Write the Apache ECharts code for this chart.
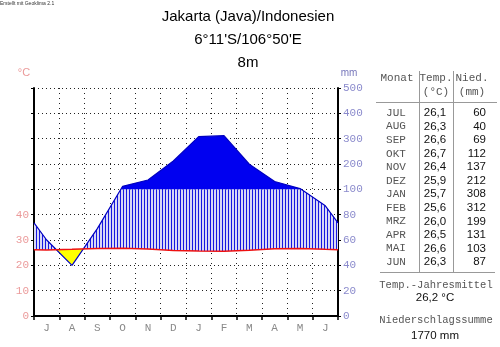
<!DOCTYPE html>
<html><head><meta charset="utf-8">
<script src="https://cdn.jsdelivr.net/npm/echarts@6/dist/echarts.min.js"></script>
<style>html,body{margin:0;padding:0;background:#fff}#c{width:500px;height:347px}</style>
</head><body><div id="c"></div>
<script>
// ---- data ----
const monthLetters = ['J','A','S','O','N','D','J','F','M','A','M','J'];
const monthNames = ['JUL','AUG','SEP','OKT','NOV','DEZ','JAN','FEB','MRZ','APR','MAI','JUN'];
const temperature = [26.1,26.3,26.6,26.7,26.4,25.9,25.7,25.6,26.0,26.5,26.6,26.3];
const precipitation = [60,40,69,112,137,212,308,312,199,131,103,87];
const leftTicks = [0,10,20,30,40];
const rightTicks = [0,20,40,60,80,100,200,300,400,500];
const titleLines = ['Jakarta (Java)/Indonesien', "6°11'S/106°50'E", '8m'];

// ---- scale (Walter-Lieth: 10°C = 20mm up to 100mm, then 10°C = 100mm) ----
function sp(p){ return p <= 100 ? p/2 : 50 + (p-100)/10; }
const edgeT = (temperature[11] + temperature[0]) / 2;
const edgeP = (precipitation[11] + precipitation[0]) / 2;
const nodeX = [0], nodeT = [edgeT], nodeP = [sp(edgeP)];
for (let i = 0; i < 12; i++) { nodeX.push(i + 0.5); nodeT.push(temperature[i]); nodeP.push(sp(precipitation[i])); }
nodeX.push(12); nodeT.push(edgeT); nodeP.push(sp(edgeP));

function buildRegions(){
  const runs = {hatch:null, solid:null, arid:null};
  const out = {hatch:[], solid:[], arid:[]};
  function add(type, x, lo, hi){
    if (!runs[type]) runs[type] = {lo:[], hi:[]};
    const r = runs[type]; const last = r.lo[r.lo.length-1];
    if (last && Math.abs(last[0]-x) < 1e-9) return;
    r.lo.push([x,lo]); r.hi.push([x,hi]);
  }
  function flush(type){
    if (runs[type]) { const r = runs[type]; out[type].push(r.lo.concat(r.hi.slice().reverse())); runs[type] = null; }
  }
  for (let i = 0; i < nodeX.length-1; i++){
    const x0=nodeX[i], x1=nodeX[i+1], t0=nodeT[i], t1=nodeT[i+1], p0=nodeP[i], p1=nodeP[i+1];
    const cuts=[0,1];
    const d0=p0-t0, d1=p1-t1; if (d0*d1<0) cuts.push(d0/(d0-d1));
    const e0=p0-50, e1=p1-50; if (e0*e1<0) cuts.push(e0/(e0-e1));
    cuts.sort((a,b)=>a-b);
    const at = s => ({x:x0+(x1-x0)*s, t:t0+(t1-t0)*s, p:p0+(p1-p0)*s});
    for (let k=0;k<cuts.length-1;k++){
      const a=cuts[k], b=cuts[k+1]; if (b-a<1e-9) continue;
      const A=at(a), B=at(b), M=at((a+b)/2);
      if (M.p>M.t){ add('hatch',A.x,A.t,Math.min(A.p,50)); add('hatch',B.x,B.t,Math.min(B.p,50)); } else flush('hatch');
      if (M.p>50){ add('solid',A.x,50,A.p); add('solid',B.x,50,B.p); } else flush('solid');
      if (M.t>M.p){ add('arid',A.x,A.p,A.t); add('arid',B.x,B.p,B.t); } else flush('arid');
    }
  }
  flush('hatch'); flush('solid'); flush('arid');
  return out;
}
const regions = buildRegions();

// hatch pattern
const cv = document.createElement('canvas'); cv.width = 3; cv.height = 2;
const cx = cv.getContext('2d');
cx.fillStyle = '#d8d8f6'; cx.fillRect(0,0,3,2);
cx.fillStyle = '#1818e0'; cx.fillRect(0,0,1,2);
const hatchPattern = {image: cv, repeat: 'repeat'};

const mono = 'Liberation Mono, DejaVu Sans Mono, monospace';
const sans = 'Liberation Sans, Arial, sans-serif';

// ---- table graphics ----
const g = [];
function txt(text, x, y, font, color, align){
  g.push({type:'text', silent:true, style:{text, x, y, font, fill:color, textAlign:align||'center', align:align||'center', textVerticalAlign:'middle', verticalAlign:'middle'}});
}
function line(x1,y1,x2,y2,color){
  g.push({type:'line', silent:true, shape:{x1,y1,x2,y2}, style:{stroke:color||'#999', lineWidth:1}});
}
txt('Erstellt mit Geoklima 2.1', 0, 4, '5px '+sans, '#333', 'left');
titleLines.forEach((t,i)=>txt(t, 248, 17 + i*23, '15px '+sans, '#000'));
txt('°C', 24, 73, '11px '+sans, '#eb9a9a');
txt('mm', 349, 73, '10px '+sans, '#7777bb');
txt('Monat', 397, 78, '11px '+mono, '#555');
txt('Temp.', 436, 78, '11px '+mono, '#555');
txt('(°C)', 436, 92, '11px '+mono, '#555');
txt('Nied.', 472, 78, '11px '+mono, '#555');
txt('(mm)', 472, 92, '11px '+mono, '#555');
line(419.5, 71, 419.5, 272);
line(453.5, 71, 453.5, 272);
line(376, 102.5, 497, 102.5);
line(380, 272.5, 495, 272.5);
const fmt = v => v.toFixed(1).replace('.', ',');
monthNames.forEach((m,i)=>{
  const y = 113 + i*13.55;
  txt(m, 396, y, '11px '+mono, '#555');
  txt(fmt(temperature[i]), 435, y, '11.5px '+sans, '#111');
  txt(String(precipitation[i]), 486, y, '11.5px '+sans, '#111', 'right');
});
const meanT = temperature.reduce((a,b)=>a+b,0)/temperature.length;
const sumP = precipitation.reduce((a,b)=>a+b,0);
txt('Temp.-Jahresmittel', 436, 285, '10.5px '+mono, '#555');
txt(fmt(meanT)+' °C', 435, 298, '11.5px '+sans, '#111');
txt('Niederschlagssumme', 436, 320, '10.5px '+mono, '#555');
txt(sumP+' mm', 435, 336, '11.5px '+sans, '#111');

const chart = echarts.init(document.getElementById('c'), null, {renderer:'canvas'});
chart.setOption({
  animation: false,
  backgroundColor: '#fff',
  grid: {left: 34, right: 162, top: 88, bottom: 31, containLabel: false},
  xAxis: [
    {type:'category', data: monthLetters, boundaryGap: true,
     axisLine:{lineStyle:{color:'#000', width:2}},
     axisTick:{show:true, interval:0, length:4, lineStyle:{color:'#000', width:1.5}},
     axisLabel:{interval:0, color:'#8a8a8a', fontFamily: mono, fontSize:11, margin:7},
     splitLine:{show:true, interval:0, lineStyle:{type:[1,4], color:'#222', width:1}}},
    {type:'value', min:0, max:12, show:false}
  ],
  yAxis: [
    {type:'value', min:0, max:90, interval:10, position:'left',
     axisLine:{show:true, lineStyle:{color:'#000', width:2}},
     axisTick:{show:true, length:3, lineStyle:{color:'#000'}},
     axisLabel:{formatter: v => leftTicks.includes(v) ? String(v) : '', color:'#eb9a9a', fontFamily: mono, fontSize:11, margin:5},
     splitLine:{show:true, lineStyle:{type:[1,3], color:'#222', width:1}}},
    {type:'value', min:0, max:90, interval:10, position:'right',
     axisLine:{show:true, lineStyle:{color:'#000', width:2}},
     axisTick:{show:true, length:3, lineStyle:{color:'#000'}},
     axisLabel:{formatter: v => { const t = rightTicks[Math.round(v/10)]; return t === undefined ? '' : String(t); }, color:'#8a8acc', fontFamily: mono, fontSize:11, margin:5},
     splitLine:{show:false}}
  ],
  series: [
    {type:'custom', coordinateSystem:'cartesian2d', xAxisIndex:1, yAxisIndex:0, clip:false, silent:true, z:2,
     data:[[6,45]],
     renderItem: (params, api) => {
       const ch = [];
       regions.hatch.forEach(poly => ch.push({type:'polygon', shape:{points: poly.map(p=>api.coord(p))}, style:{fill: hatchPattern}}));
       regions.solid.forEach(poly => ch.push({type:'polygon', shape:{points: poly.map(p=>api.coord(p))}, style:{fill:'#0000f0'}}));
       regions.arid.forEach(poly => ch.push({type:'polygon', shape:{points: poly.map(p=>api.coord(p))}, style:{fill:'#ffff00'}}));
       return {type:'group', children: ch};
     }},
    {type:'line', xAxisIndex:1, yAxisIndex:0, z:4, symbol:'none', silent:true,
     data: nodeX.map((x,i)=>[x, nodeP[i]]),
     lineStyle:{color:'#0000c0', width:1.2}},
    {type:'line', xAxisIndex:1, yAxisIndex:0, z:5, symbol:'none', silent:true,
     data: nodeX.map((x,i)=>[x, nodeT[i]]),
     lineStyle:{color:'#ee1111', width:1.5}}
  ],
  graphic: g
});
</script></body></html>
